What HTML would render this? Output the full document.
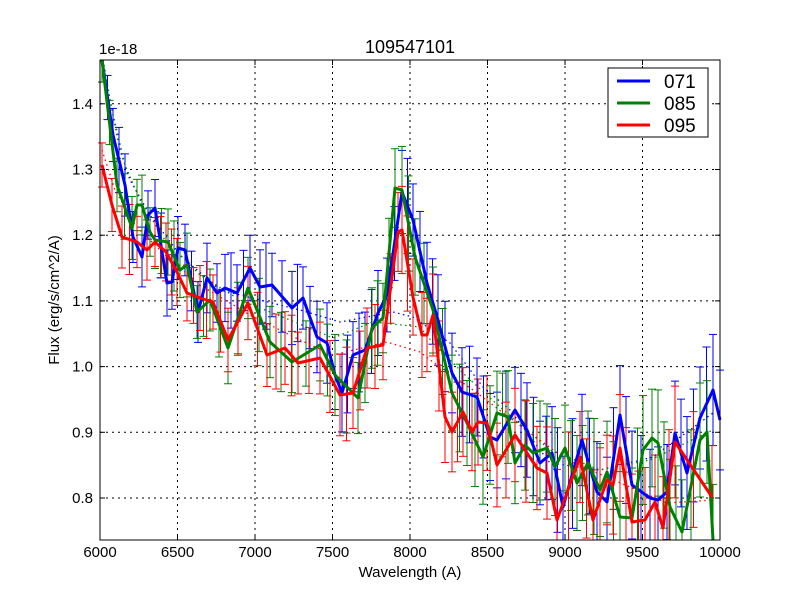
<!DOCTYPE html>
<html><head><meta charset="utf-8"><style>
body{margin:0;background:#fff;}
svg{font-family:"Liberation Sans","DejaVu Sans",sans-serif;}
</style></head><body>
<svg id="s" width="800" height="600" xmlns="http://www.w3.org/2000/svg">
<rect width="800" height="600" fill="#fff"/>
<g id="grid" stroke="#000" stroke-width="1" stroke-dasharray="2,4"></g>
<g id="data"></g>
<rect x="100" y="60" width="620" height="480" fill="none" stroke="#000" stroke-width="1"/>
<g id="ticks" stroke="#000"></g>
<g font-size="15" fill="#000" id="labels"></g>
<text x="410" y="53" font-size="18" text-anchor="middle">109547101</text>
<text x="99" y="54" font-size="15">1e-18</text>
<text x="410" y="577" font-size="15" text-anchor="middle">Wavelength (A)</text>
<text transform="translate(59,300) rotate(-90)" font-size="15" text-anchor="middle">Flux (erg/s/cm^2/A)</text>
<rect x="608" y="68" width="100" height="69" fill="#fff" stroke="#000"/>
<line x1="617" y1="81" x2="650" y2="81" stroke="#0000ff" stroke-width="3"/>
<line x1="617" y1="103" x2="650" y2="103" stroke="#008000" stroke-width="3"/>
<line x1="617" y1="125" x2="650" y2="125" stroke="#ff0000" stroke-width="3"/>
<text x="664" y="88" font-size="19">071</text>
<text x="664" y="110" font-size="19">085</text>
<text x="664" y="132" font-size="19">095</text>
</svg>
<script>
var NS="http://www.w3.org/2000/svg";
function el(p,t,a){var e=document.createElementNS(NS,t);for(var k in a)e.setAttribute(k,a[k]);p.appendChild(e);return e;}
var g=document.getElementById('grid'),tk=document.getElementById('ticks'),lb=document.getElementById('labels');
for(var i=0;i<=8;i++){var x=100+i*77.5;if(i>0&&i<8)el(g,'line',{x1:x,y1:60,x2:x,y2:540});
el(tk,'line',{x1:x,y1:540,x2:x,y2:535});el(tk,'line',{x1:x,y1:60,x2:x,y2:65});
var t=el(lb,'text',{x:x,y:557,'text-anchor':'middle'});t.textContent=6000+i*500;}
for(var j=0;j<7;j++){var v=0.8+j*0.1,y=498-j*65.7;el(g,'line',{x1:100,y1:y,x2:720,y2:y});
el(tk,'line',{x1:100,y1:y,x2:105,y2:y});el(tk,'line',{x1:720,y1:y,x2:715,y2:y});
var t=el(lb,'text',{x:93,y:y+5,'text-anchor':'end'});t.textContent=v.toFixed(1);}
var B=[[102,60],[113,135],[125,185],[133,237],[142,257],[148,215],[155,208],[167,283],[172,282],[178,248],[185,250],[198,312],[207,278],[217,293],[225,288],[237,293],[250,268],[260,287],[272,285],[292,308],[303,298],[317,337],[327,343],[335,375],[342,393],[353,355],[365,350],[378,313],[387,295],[402,192],[413,220],[427,283],[438,320],[452,373],[462,392],[477,397],[490,437],[497,440],[515,410],[527,430],[540,463],[552,453],[563,507],[582,440],[597,492],[607,502],[620,415],[632,485],[650,498],[658,500],[667,492],[675,433],[687,473],[700,418],[713,390],[720,420]];
var G=[[102,60],[117,185],[132,228],[137,205],[142,205],[150,232],[155,240],[168,242],[180,270],[187,265],[197,312],[210,300],[228,348],[248,288],[270,342],[292,362],[320,345],[335,375],[358,398],[372,328],[383,318],[395,188],[402,190],[415,257],[433,310],[452,393],[467,423],[483,457],[497,413],[508,417],[515,463],[525,445],[533,453],[547,448],[555,467],[565,448],[577,483],[588,463],[600,490],[607,472],[620,517],[632,518],[643,450],[652,438],[658,443],[670,507],[682,532],[700,440],[707,432],[713,540]];
var R=[[102,165],[112,205],[122,237],[137,242],[147,250],[155,242],[166,252],[177,272],[187,293],[200,298],[213,302],[228,340],[248,303],[267,355],[285,348],[298,363],[320,358],[340,395],[353,393],[367,348],[383,345],[398,232],[402,230],[413,297],[422,335],[427,335],[433,315],[445,417],[452,432],[463,412],[472,432],[478,422],[487,423],[497,465],[515,435],[537,468],[547,473],[557,520],[580,457],[593,520],[607,480],[613,485],[620,448],[632,522],[645,520],[655,502],[663,528],[675,442],[712,497]];
var BD=[[103,60],[110,100],[120,150],[130,180],[150,215],[180,255],[220,290],[260,300],[300,310],[340,322],[393,312],[413,317],[450,343],[483,387],[510,410],[550,463],[600,470],[653,457],[713,413]];
var GD=[[103,60],[112,110],[125,165],[140,200],[165,240],[200,275],[240,300],[290,320],[333,338],[373,322],[420,327],[433,343],[467,377],[500,407],[550,450],[600,470],[650,460],[713,430]];
var RD=[[102,150],[115,190],[135,225],[165,255],[200,285],[250,315],[300,340],[333,355],[387,342],[420,352],[433,362],[473,390],[510,418],[567,460],[667,503],[713,500]];
var d=document.getElementById('data');
function pts(a){return a.map(function(p){return p[0]+','+p[1]}).join(' ');}
function bar(x,y,h,c){var y1=Math.max(60,y-h),y2=Math.min(540,y+h);
el(d,'line',{x1:x,y1:y1,x2:x,y2:y2,stroke:c,'stroke-width':1});
if(y-h>60)el(d,'line',{x1:x-4,y1:y1,x2:x+4,y2:y1,stroke:c,'stroke-width':1});
if(y+h<540)el(d,'line',{x1:x-4,y1:y2,x2:x+4,y2:y2,stroke:c,'stroke-width':1});}
function err(a,c){a.forEach(function(p,i){var h=22+(p[0]-100)*0.045+((i*7)%5)*2;bar(p[0],p[1],h,c);
if(i<a.length-1){var q=a[i+1];if(q[0]-p[0]>10){var mx=(p[0]+q[0])/2,my=(p[1]+q[1])/2;bar(mx,my,h+((i*3)%4)*2,c);}}});}
err(B,'#0000ff');err(G,'#008000');err(R,'#ff0000');
[[BD,'#0000ff'],[GD,'#008000'],[RD,'#ff0000']].forEach(function(s){el(d,'polyline',{points:pts(s[0]),fill:'none',stroke:s[1],'stroke-width':1.3,'stroke-dasharray':'1.5,3.5'});});
[[B,'#0000ff'],[G,'#008000'],[R,'#ff0000']].forEach(function(s){el(d,'polyline',{points:pts(s[0]),fill:'none',stroke:s[1],'stroke-width':3,'stroke-linejoin':'round'});});
</script>
</body></html>
